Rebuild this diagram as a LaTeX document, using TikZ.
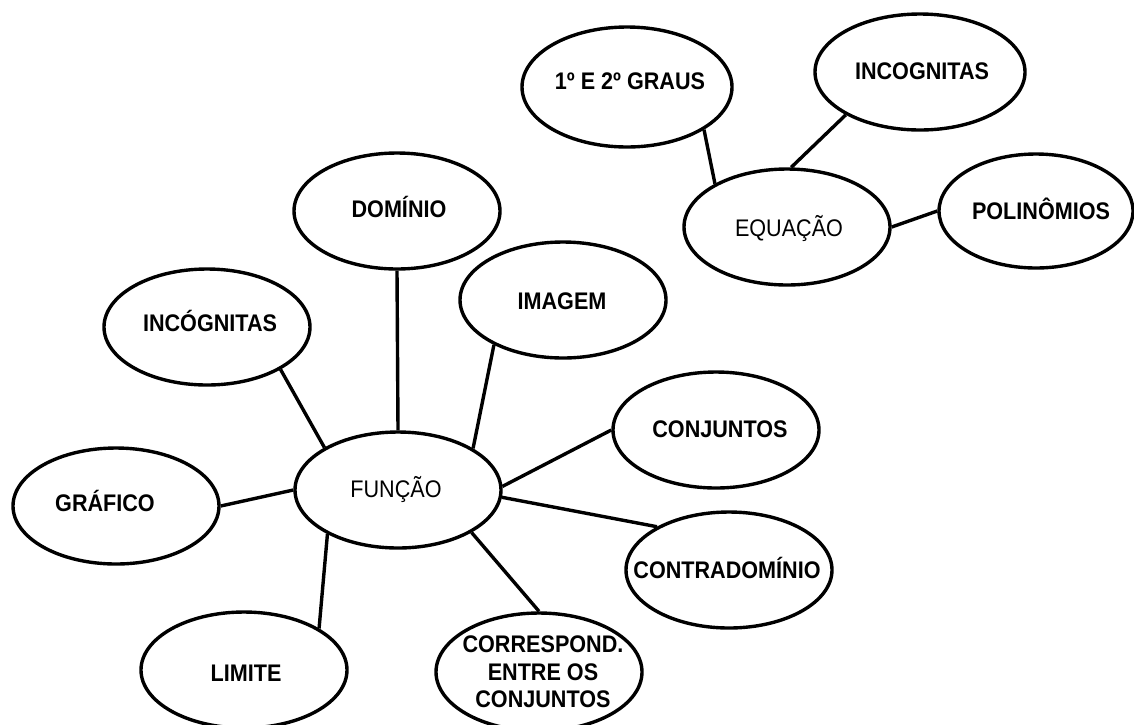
\documentclass[tikz,border=0pt]{standalone}
\usepackage{fontspec}
\setmainfont{Liberation Sans}[FakeStretch=0.9]
\usetikzlibrary{shapes.geometric}
\begin{document}
\begin{tikzpicture}[x=1pt,y=-1pt,
  bubble/.style={ellipse,draw=black,line width=3.4pt,inner sep=0pt,
    minimum width=206pt,minimum height=116pt},
  word/.style={inner sep=0pt,anchor=base,align=center,
    font=\fontsize{24}{27.5}\selectfont\bfseries},
  plain/.style={word,font=\fontsize{24}{27.5}\selectfont},
  link/.style={line width=3.4pt}]
\useasboundingbox (0,0) rectangle (1134,724);

% function cluster: outlines
\node[bubble] (fun)  at (398,490) {};
\node[bubble] (dom)  at (397,211) {};
\node[bubble] (inc)  at (207,327) {};
\node[bubble] (img)  at (563,300) {};
\node[bubble] (conj) at (716,430) {};
\node[bubble] (cdom) at (729,570) {};
\node[bubble] (graf) at (116,506) {};
\node[bubble] (lim)  at (244,670) {};
\node[bubble,minimum height=118pt] (corr) at (539,672) {};

% function cluster: labels
\node[plain] (tfun)  at (396,497) {FUNÇÃO};
\node[word]  (tdom)  at (399,217) {DOMÍNIO};
\node[word]  (tinc)  at (210,331) {INCÓGNITAS};
\node[word]  (timg)  at (562,309) {IMAGEM};
\node[word]  (tconj) at (720,437) {CONJUNTOS};
\node[word]  (tcdom) at (727,578) {CONTRADOMÍNIO};
\node[word]  (tgraf) at (105,511) {GRÁFICO};
\node[word]  (tlim)  at (246,681) {LIMITE};
\node[word,anchor=center] (tcorr) at (543,672)
  {CORRESPOND.\\ENTRE OS\\CONJUNTOS};

\draw[link] (fun.150) -- (inc.-30);
\draw[link] (fun.90)  -- (dom.270);
\draw[link] (fun.29)  -- (img.213);
\draw[link] (fun.2)   -- (conj.180);
\draw[link] (fun.-4)  -- (cdom.149);
\draw[link] (fun.180) -- (graf.0);
\draw[link] (fun.212) -- (lim.29);
\draw[link] (fun.-30) -- (corr.90);

% equation cluster
\node[bubble] (equ)  at (787,227) {};
\node[bubble,minimum width=210pt,minimum height=120pt] (grau) at (627,87) {};
\node[bubble,minimum width=210pt] (incg) at (920,72) {};
\node[bubble,minimum width=194pt,minimum height=114pt] (poli) at (1036,211) {};

\node[plain] (tequ)  at (789,236) {EQUAÇÃO};
\node[word]  (tgrau) at (630,89)  {1º E 2º GRAUS};
\node[word]  (tincg) at (922,79)  {INCOGNITAS};
\node[word]  (tpoli) at (1041,219) {POLINÔMIOS};

\draw[link] (equ.149) -- (grau.-29);
\draw[link] (equ.86)  -- (incg.210);
\draw[link] (equ.0)   -- (poli.180);
\end{tikzpicture}
\end{document}
